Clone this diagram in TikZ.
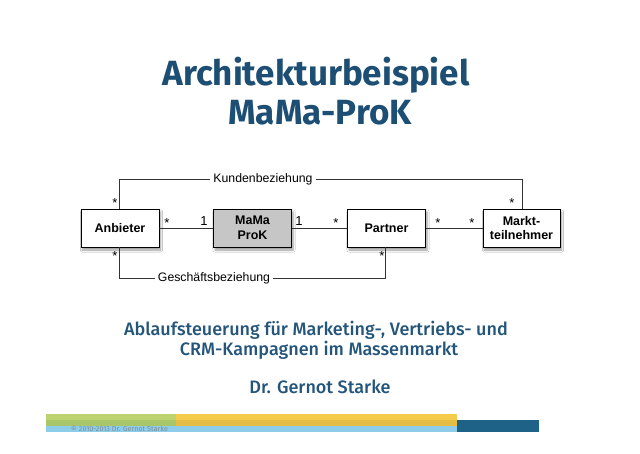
\documentclass[tikz,border=0pt]{standalone}
\usepackage{fontspec}
\setmainfont{Fira Sans}
\newfontfamily\firamed{Fira Sans Medium}
\newfontfamily\diagfont{Liberation Sans}
\usetikzlibrary{shadows.blur}
\definecolor{titleblue}{HTML}{1D4E73}
\definecolor{subblue}{HTML}{24557A}
\definecolor{grnA}{HTML}{BDD370}
\definecolor{grnB}{HTML}{A9C66A}
\definecolor{ylwA}{HTML}{F5CB4C}
\definecolor{ylwB}{HTML}{E5BD46}
\definecolor{ltblue}{HTML}{8DCDEA}
\definecolor{dkblue}{HTML}{1F6287}
\definecolor{boxgray}{HTML}{C6C6C6}
\definecolor{copygray}{HTML}{7F8E96}
\tikzset{
  umlbox/.style={draw=black, line width=0.8pt, fill=white, minimum width=78pt, minimum height=38pt,
    align=center, inner sep=0pt, font=\diagfont\fontsize{12.5}{14.5}\selectfont\bfseries,
    blur shadow={shadow xshift=1.5pt, shadow yshift=-3pt, shadow blur steps=6, shadow opacity=40}},
  conn/.style={draw=black!80, line width=0.6pt},
  mult/.style={font=\diagfont\fontsize{13}{14}\selectfont, inner sep=0pt},
  rel/.style={font=\diagfont\fontsize{12.3}{13}\selectfont, fill=white, inner xsep=3pt, inner ysep=1pt},
  title/.style={font=\fontsize{35}{39}\selectfont\bfseries, text=titleblue, align=center},
  sub/.style={font=\firamed\fontsize{18}{21}\selectfont, text=subblue, align=center},
}
\begin{document}
\begin{tikzpicture}[x=1pt,y=-1pt]
\useasboundingbox[fill=white] (0,0) rectangle (640,453);
% title
\node[title, anchor=base] (t1) at (316,85) {Architekturbeispiel};
\node[title, anchor=base] (t2) at (320,124) {MaMa-ProK};
% subtitle
\node[sub, anchor=base] (s1) at (316,335) {Ablaufsteuerung für Marketing-, Vertriebs- und};
\node[sub, anchor=base] (s2) at (319,355) {CRM-Kampagnen im Massenmarkt};
\node[sub, anchor=base] (s3) at (320,393) {Dr. Gernot Starke};
% boxes
\node[umlbox] (anb) at (120,228) {Anbieter};
\node[umlbox, fill=boxgray] (mama) at (252.5,228) {MaMa\\ProK};
\node[umlbox] (part) at (386.5,228) {Partner};
\node[umlbox, minimum width=77pt] (markt) at (521.5,228) {Markt-\\teilnehmer};
% straight connectors
\draw[conn] (anb) -- (mama);
\draw[conn] (mama) -- (part);
\draw[conn] (part) -- (markt);
% Kundenbeziehung
\coordinate (k1) at (119,179);
\coordinate (k2) at (522,179);
\draw[conn] (anb.north -| k1) -- (k1) -- (k2) -- (markt.north -| k2);
\node[rel] (klab) at (263,179) {Kundenbeziehung};
% Geschaeftsbeziehung
\coordinate (g1) at (119,278);
\coordinate (g2) at (385,278);
\draw[conn] (anb.south -| g1) -- (g1) -- (g2) -- (part.south -| g2);
\node[rel] (glab) at (214,278) {Geschäftsbeziehung};
% multiplicities
\node[mult] (m1) at (115,203) {*};
\node[mult] (m2) at (512,203) {*};
\node[mult] (m3) at (115,256) {*};
\node[mult] (m4) at (382,256) {*};
\node[mult] (m5) at (167,223) {*};
\node[mult] (m6) at (204,221) {1};
\node[mult] (m7) at (299,221) {1};
\node[mult] (m8) at (336,223) {*};
\node[mult] (m9) at (438,223) {*};
\node[mult] (m10) at (472,223) {*};
% footer
\fill[grnA] (46,414) rectangle (176,420);
\fill[grnB] (46,420) rectangle (176,426);
\fill[ylwA] (176,414) rectangle (457,420);
\fill[ylwB] (176,420) rectangle (457,426);
\fill[ltblue] (46,426) rectangle (457,432);
\fill[dkblue] (457,420) rectangle (539,432);
\node[anchor=base west, inner sep=0pt, font=\fontsize{7.2}{8}\selectfont, text=copygray] (copy) at (71,431) {© 2010-2013 Dr. Gernot Starke};
\end{tikzpicture}
\end{document}
